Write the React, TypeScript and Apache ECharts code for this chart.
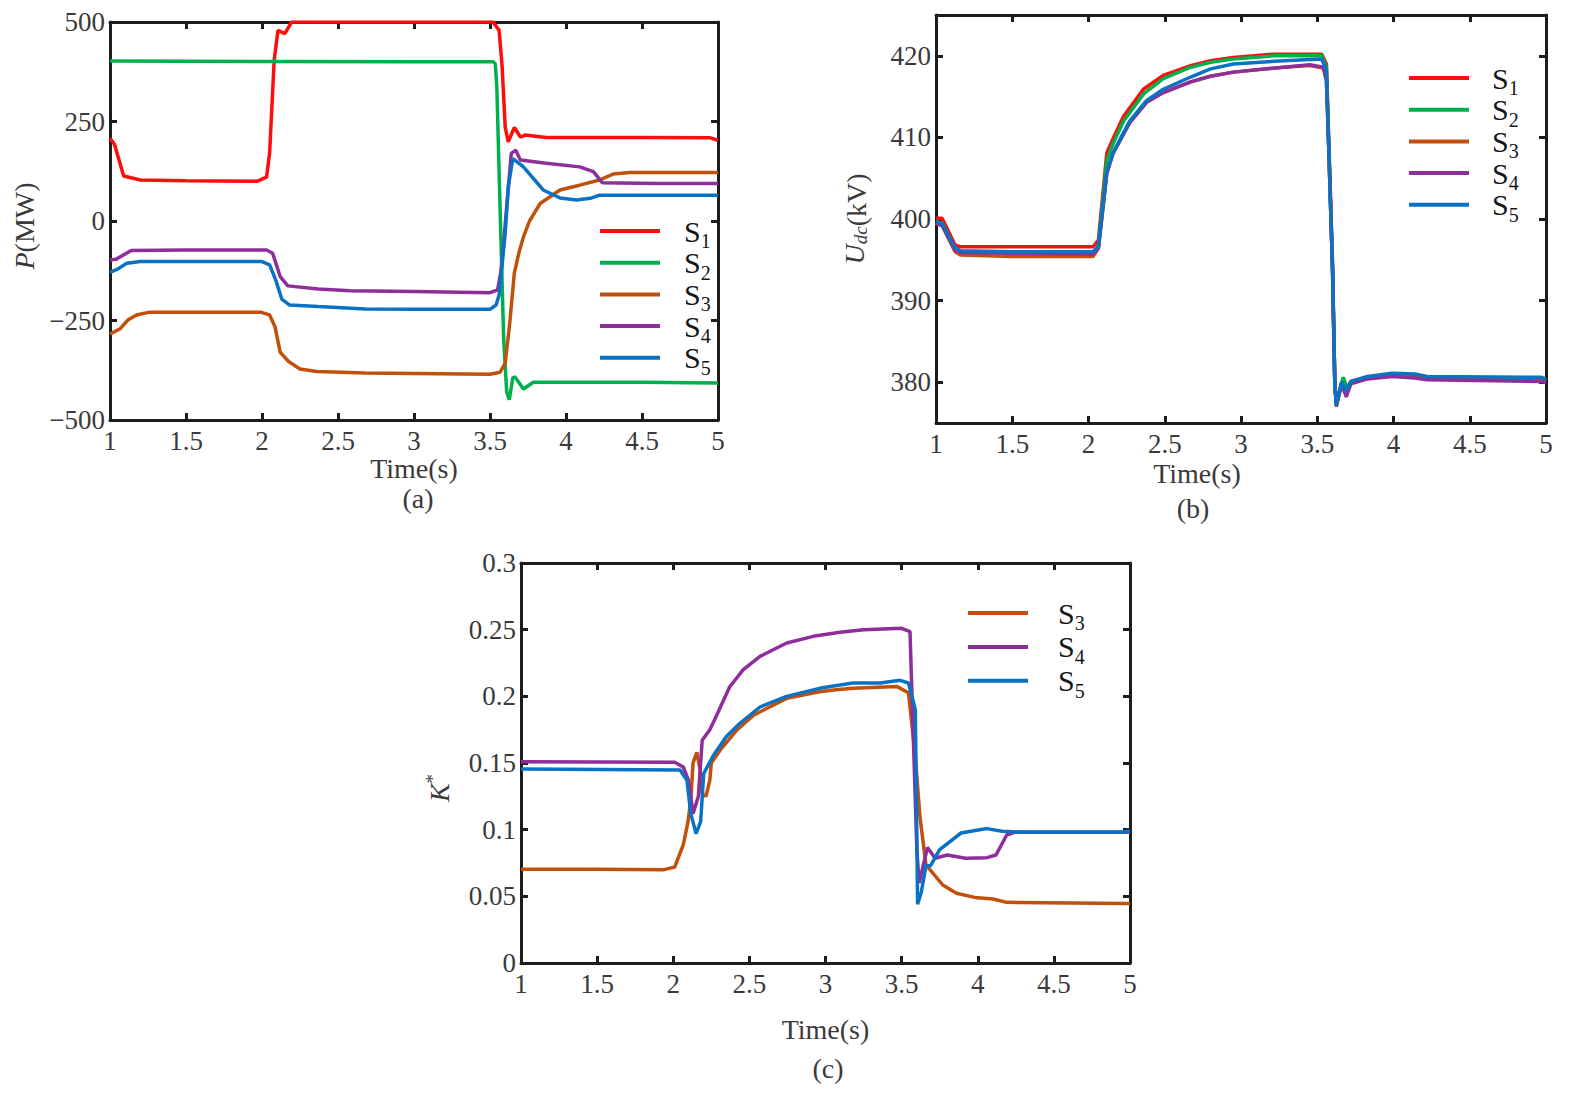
import React, { useEffect, useRef } from 'react';
import * as echarts from 'echarts';

// ---------- data ----------
const seriesNames = ['S1', 'S2', 'S3', 'S4', 'S5'];
const seriesColors = ['#ff0d0d', '#00b04c', '#c0500c', '#8e2e9b', '#0a72c4'];

const pTickValues = [-500, -250, 0, 250, 500];
const uTickValues = [380, 390, 400, 410, 420];
const kTickValues = [0, 0.05, 0.1, 0.15, 0.2, 0.25, 0.3];

// (a) active power P (MW)
const pS1 = [[1, 208], [1.03, 192], [1.09, 113], [1.2, 103], [1.5, 101], [1.97, 100], [2.03, 110], [2.05, 170], [2.08, 403], [2.105, 479], [2.15, 471], [2.195, 500], [2.5, 500], [3.0, 500], [3.52, 500], [3.56, 479], [3.58, 387], [3.6, 236], [3.62, 199], [3.66, 235], [3.7, 211], [3.73, 216], [3.87, 210], [4.5, 210], [4.95, 209], [5, 203]];
const pS2 = [[1, 402], [2, 401], [3, 400], [3.52, 400], [3.535, 395], [3.545, 336], [3.566, 36], [3.59, -298], [3.61, -430], [3.627, -449], [3.65, -394], [3.665, -392], [3.72, -422], [3.785, -405], [4.5, -405], [5, -407]];
const pS3 = [[1, -284], [1.066, -271], [1.12, -248], [1.175, -236], [1.26, -229], [1.99, -229], [2.05, -236], [2.085, -265], [2.12, -330], [2.175, -353], [2.25, -372], [2.36, -378], [2.68, -382], [3.0, -383], [3.5, -385], [3.566, -380], [3.6, -357], [3.63, -256], [3.66, -131], [3.69, -80], [3.72, -40], [3.76, 0], [3.83, 44], [3.96, 78], [4.09, 90], [4.22, 103], [4.31, 118], [4.42, 122], [5, 122]];
const pS4 = [[1, -98], [1.04, -96], [1.14, -74], [1.5, -73], [2.03, -73], [2.07, -81], [2.12, -140], [2.17, -163], [2.37, -171], [2.58, -175], [3.0, -177], [3.5, -180], [3.55, -173], [3.57, -131], [3.58, -98], [3.61, 36], [3.64, 170], [3.67, 178], [3.7, 153], [3.87, 145], [4.09, 136], [4.18, 124], [4.24, 96], [4.6, 94], [5, 94]];
const pS5 = [[1, -129], [1.05, -121], [1.11, -106], [1.2, -102], [2.0, -102], [2.05, -110], [2.09, -148], [2.13, -196], [2.18, -211], [2.37, -215], [2.68, -221], [3.0, -222], [3.5, -222], [3.54, -211], [3.56, -186], [3.6, -31], [3.62, 86], [3.65, 157], [3.72, 136], [3.85, 78], [3.96, 58], [4.07, 53], [4.16, 57], [4.22, 65], [5, 65]];

// (b) DC voltage Udc (kV)
const uS1 = [[1, 400.1], [1.04, 400.1], [1.125, 396.8], [1.16, 396.6], [2.03, 396.6], [2.065, 397.4], [2.12, 408.1], [2.16, 409.8], [2.23, 412.6], [2.36, 415.9], [2.49, 417.6], [2.67, 418.8], [2.8, 419.4], [2.95, 419.8], [3.21, 420.2], [3.53, 420.2], [3.56, 419], [3.575, 410], [3.6, 395], [3.615, 380], [3.625, 377], [3.66, 380], [3.69, 378.8], [3.72, 380.1], [3.83, 380.6], [3.99, 381.0], [4.14, 380.9], [4.22, 380.6], [4.97, 380.4], [5, 380.2]];
const uS2 = [[1, 399.7], [1.04, 399.5], [1.125, 396.4], [1.16, 396.0], [2.03, 395.8], [2.065, 396.8], [2.12, 407.2], [2.16, 409.2], [2.23, 412.0], [2.36, 415.3], [2.49, 417.2], [2.67, 418.6], [2.8, 419.2], [2.95, 419.6], [3.21, 420.0], [3.53, 420.0], [3.56, 418.6], [3.575, 409], [3.6, 394], [3.615, 380], [3.625, 377.3], [3.67, 380.6], [3.7, 379.2], [3.72, 380.0], [3.83, 380.6], [3.99, 381.0], [4.14, 380.8], [4.22, 380.5], [4.97, 380.4], [5, 380.2]];
const uS3 = [[1, 399.5], [1.04, 399.2], [1.125, 396.0], [1.16, 395.6], [1.5, 395.4], [2.03, 395.4], [2.065, 396.4], [2.12, 405.6], [2.16, 408.0], [2.27, 411.8], [2.38, 414.3], [2.49, 415.5], [2.67, 416.8], [2.8, 417.5], [2.95, 418.0], [3.28, 418.6], [3.45, 418.8], [3.54, 418.5], [3.56, 417], [3.575, 409], [3.6, 394], [3.615, 380], [3.625, 377.2], [3.66, 379.6], [3.69, 378.5], [3.72, 379.9], [3.83, 380.5], [3.99, 380.8], [4.14, 380.7], [4.22, 380.4], [4.97, 380.2], [5, 380.0]];
const uS4 = [[1, 399.5], [1.04, 399.2], [1.125, 396.2], [1.16, 395.9], [1.5, 395.8], [2.03, 395.7], [2.065, 396.5], [2.12, 405.6], [2.16, 408.0], [2.27, 411.8], [2.38, 414.3], [2.49, 415.5], [2.67, 416.8], [2.8, 417.5], [2.95, 418.0], [3.28, 418.6], [3.45, 418.9], [3.54, 418.6], [3.56, 417], [3.575, 409], [3.6, 394], [3.615, 380], [3.625, 377.4], [3.66, 379.8], [3.69, 378.2], [3.72, 379.8], [3.83, 380.4], [3.99, 380.7], [4.14, 380.5], [4.22, 380.3], [4.97, 380.1], [5, 380.0]];
const uS5 = [[1, 399.7], [1.04, 399.4], [1.125, 396.5], [1.16, 396.1], [1.5, 396.0], [2.03, 396.0], [2.065, 396.6], [2.12, 405.8], [2.16, 408.1], [2.27, 412.0], [2.38, 414.5], [2.49, 415.9], [2.67, 417.4], [2.8, 418.4], [2.95, 419.0], [3.28, 419.4], [3.53, 419.6], [3.56, 418.2], [3.575, 409], [3.6, 394], [3.615, 380], [3.625, 377.1], [3.66, 380.0], [3.69, 378.9], [3.72, 380.1], [3.83, 380.7], [3.99, 381.1], [4.14, 381.0], [4.22, 380.7], [4.97, 380.6], [5, 380.4]];

// (c) K*
const kS3 = [[1, 0.0704], [1.5, 0.0703], [1.94, 0.070], [2.01, 0.072], [2.066, 0.0887], [2.097, 0.106], [2.115, 0.122], [2.13, 0.150], [2.155, 0.158], [2.176, 0.145], [2.19, 0.127], [2.215, 0.125], [2.24, 0.137], [2.25, 0.150], [2.31, 0.160], [2.42, 0.175], [2.53, 0.186], [2.745, 0.1985], [2.96, 0.2035], [3.07, 0.205], [3.18, 0.206], [3.47, 0.2073], [3.545, 0.2027], [3.59, 0.155], [3.62, 0.110], [3.66, 0.0736], [3.77, 0.0585], [3.86, 0.0523], [3.98, 0.0492], [4.1, 0.048], [4.19, 0.0455], [4.97, 0.0447], [5, 0.0447]];
const kS4 = [[1, 0.151], [2.01, 0.1505], [2.066, 0.147], [2.1, 0.137], [2.13, 0.112], [2.165, 0.125], [2.19, 0.167], [2.24, 0.175], [2.27, 0.182], [2.31, 0.192], [2.37, 0.207], [2.46, 0.220], [2.57, 0.230], [2.745, 0.240], [2.92, 0.245], [3.095, 0.248], [3.25, 0.250], [3.5, 0.251], [3.555, 0.2485], [3.6, 0.085], [3.615, 0.06], [3.67, 0.0867], [3.72, 0.0786], [3.8, 0.081], [3.92, 0.0786], [4.06, 0.079], [4.12, 0.081], [4.19, 0.096], [4.24, 0.098], [5, 0.098]];
const kS5 = [[1, 0.1455], [2.045, 0.1448], [2.09, 0.137], [2.115, 0.112], [2.15, 0.097], [2.18, 0.106], [2.2, 0.142], [2.26, 0.155], [2.35, 0.170], [2.44, 0.180], [2.57, 0.192], [2.745, 0.200], [2.96, 0.206], [3.18, 0.210], [3.36, 0.210], [3.49, 0.212], [3.545, 0.210], [3.59, 0.190], [3.605, 0.044], [3.63, 0.0535], [3.66, 0.073], [3.69, 0.073], [3.75, 0.085], [3.89, 0.0975], [4.06, 0.1008], [4.16, 0.0988], [4.28, 0.0982], [4.95, 0.0982], [5, 0.099]];

const panelA = [pS1, pS2, pS3, pS4, pS5];
const panelB = [uS1, uS2, uS3, uS4, uS5];
const panelC = [kS3, kS4, kS5];
const panelCNames = ['S3', 'S4', 'S5'];

// ---------- styling ----------
const FONT = '"Liberation Serif", "Times New Roman", serif';
const TXT = '#3a3a3a';
const AX = '#1c1c1c';
const LEG = '#151515';

function xPair(grid: number, nameGap: number, namePad: number[]) {
  const base = {
    type: 'value', gridIndex: grid, min: 1, max: 5, interval: 0.5,
    splitLine: { show: false },
    axisLine: { show: true, onZero: false, lineStyle: { color: AX, width: 3 } },
    axisTick: { show: true, inside: true, length: 7, lineStyle: { color: AX, width: 3 } },
  };
  return [
    {
      ...base, position: 'bottom',
      axisLabel: { color: TXT, fontFamily: FONT, fontSize: 27, margin: 7 },
      name: 'Time(s)', nameLocation: 'middle', nameGap,
      nameTextStyle: { color: TXT, fontFamily: FONT, fontSize: 28, padding: namePad },
    },
    { ...base, position: 'top', axisLabel: { show: false } },
  ];
}

function yPair(grid: number, min: number, max: number, extra: any, label: any, name: string, nameGap: number, namePad: number[], rich: any) {
  const { tickCustom, ...rest } = extra;
  const base = {
    type: 'value', gridIndex: grid, min, max, ...rest,
    splitLine: { show: false },
    axisLine: { show: true, onZero: false, lineStyle: { color: AX, width: 3 } },
    axisTick: { show: true, inside: true, length: 7, lineStyle: { color: AX, width: 3 }, ...(tickCustom ? { customValues: tickCustom } : {}) },
  };
  return [
    {
      ...base, position: 'left',
      axisLabel: { color: TXT, fontFamily: FONT, fontSize: 27, margin: 5, ...label },
      name, nameLocation: 'middle', nameGap,
      nameTextStyle: { color: TXT, fontFamily: FONT, fontSize: 28, padding: namePad, rich },
    },
    { ...base, position: 'right', axisLabel: { show: false } },
  ];
}

function legend(names: string[], left: number, top: number, gap: number, textPad: number) {
  return {
    data: names, orient: 'vertical', left, top, icon: 'rect', itemWidth: 60, itemHeight: 4, itemGap: gap,
    selectedMode: false,
    formatter: (n: string) => `{s|S}{sub|${n.slice(1)}}`,
    textStyle: {
      fontFamily: FONT, fontSize: 30, color: LEG,
      rich: {
        s: { fontFamily: FONT, fontSize: 30, color: LEG, lineHeight: 30, verticalAlign: 'top', padding: [0, 0, 0, textPad] },
        sub: { fontFamily: FONT, fontSize: 20, color: LEG, lineHeight: 30, verticalAlign: 'top', padding: [15, 0, 0, 0] },
      },
    },
  };
}

function caption(text: string, x: number, y: number) {
  return {
    type: 'text', x, y,
    style: { text, align: 'center', verticalAlign: 'middle', fontFamily: FONT, fontSize: 28, fill: TXT },
  };
}

function lineSeries(name: string, color: string, data: number[][], axis: number) {
  return {
    type: 'line', name, data, xAxisIndex: axis, yAxisIndex: axis,
    showSymbol: false, symbol: 'none',
    lineStyle: { color, width: 3.5 }, itemStyle: { color },
    emphasis: { disabled: true },
  };
}

function buildOption() {
  const italic = { fontStyle: 'italic', fontFamily: FONT, fontSize: 28, color: TXT };
  const xAxes = [
    ...xPair(0, 31, [0, 0, 0, 0]),
    ...xPair(1, 36, [0, 88, 0, 0]),
    ...xPair(2, 52, [0, 0, 0, 0]),
  ];
  const yAxes = [
    ...yPair(0, -500, 500, { interval: 250 }, {
      formatter: (v: number) => (v < 0 ? '\u2212' + Math.abs(v) : String(v)),
    }, '{i|P}(MW)', 72, [0, 10, 0, 0], { i: italic }),
    ...yPair(1, 375, 425, { tickCustom: uTickValues }, { customValues: uTickValues },
      '{i|U}{sub|dc}(kV)', 66, [0, 0, 0, 0], {
        i: { ...italic, lineHeight: 28, padding: [0, 0, 4, 0] },
        sub: { fontStyle: 'italic', fontFamily: FONT, fontSize: 19, color: TXT, lineHeight: 14, verticalAlign: 'bottom' },
      }),
    ...yPair(2, 0, 0.3, { interval: 0.05 }, {
      formatter: (v: number) => String(+v.toFixed(2)),
    }, '{i|K}{sup|*}', 70, [0, 50, 0, 0], {
      i: { ...italic, lineHeight: 28, padding: [4, 0, 0, 0] },
      sup: { fontFamily: FONT, fontSize: 19, color: TXT, lineHeight: 14, verticalAlign: 'top' },
    }),
  ];
  const series: any[] = [];
  panelA.forEach((d, i) => series.push(lineSeries(seriesNames[i], seriesColors[i], d, 0)));
  panelB.forEach((d, i) => series.push(lineSeries(seriesNames[i], seriesColors[i], d, 2)));
  panelC.forEach((d, i) => series.push(lineSeries(panelCNames[i], seriesColors[i + 2], d, 4)));
  return {
    animation: false,
    backgroundColor: '#ffffff',
    grid: [
      { left: 110, top: 22, width: 608, height: 398, containLabel: false },
      { left: 936, top: 15, width: 610, height: 408, containLabel: false },
      { left: 521, top: 563, width: 609, height: 400, containLabel: false },
    ],
    xAxis: xAxes,
    yAxis: yAxes,
    legend: [
      legend(seriesNames, 595, 211, -3.3, 19),
      legend(seriesNames, 1404, 58, -3.3, 18),
      legend(panelCNames, 963, 593, -1.1, 25),
    ],
    graphic: [caption('(a)', 418, 498), caption('(b)', 1193, 508), caption('(c)', 828, 1068)],
    series,
  };
}

export default function App() {
  const ref = useRef<HTMLDivElement>(null);
  useEffect(() => {
    if (!ref.current) return;
    const chart = echarts.init(ref.current, undefined, { renderer: 'svg' });
    chart.setOption(buildOption() as any);
    return () => chart.dispose();
  }, []);
  return (
    <div
      ref={ref}
      style={{ position: 'absolute', left: 0, top: 0, width: 1572, height: 1098, background: '#fff' }}
    />
  );
}
